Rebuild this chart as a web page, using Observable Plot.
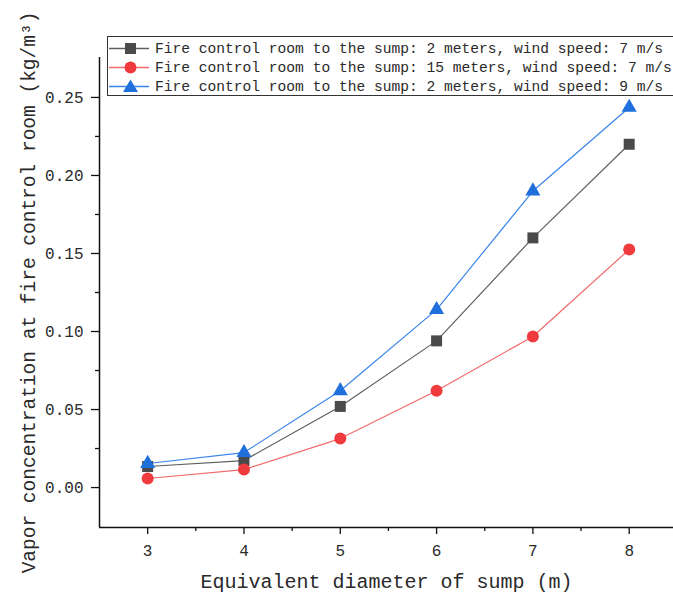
<!DOCTYPE html>
<html>
<head>
<meta charset="utf-8">
<script src="https://cdn.jsdelivr.net/npm/d3@7"></script>
<script src="https://cdn.jsdelivr.net/npm/@observablehq/plot@0.6"></script>
<style>
  html, body { margin: 0; padding: 0; background: #fff; overflow: hidden; }
  #wrap { position: relative; width: 673px; height: 597px; overflow: hidden; }
  #legend { position: absolute; left: 107px; top: 36px; width: 620px; height: 60px;
    border: 1px solid #333; background: #fff; font-family: "Liberation Mono", monospace;
    font-size: 14.6px; color: #2a2a2a; box-sizing: border-box; padding-top: 2px; }
  .row { display: flex; align-items: center; height: 19px; white-space: nowrap; }
  .row svg { flex: none; margin-right: 5px; }
</style>
</head>
<body>
<div id="wrap"><div id="chart"></div><div id="legend"></div></div>
<script>
const diameters = [3, 4, 5, 6, 7, 8];
const seriesNames = [
  "Fire control room to the sump: 2 meters, wind speed: 7 m/s",
  "Fire control room to the sump: 15 meters, wind speed: 7 m/s",
  "Fire control room to the sump: 2 meters, wind speed: 9 m/s"
];
const s2m7 = [0.0135, 0.0173, 0.052, 0.094, 0.160, 0.220];
const s15m7 = [0.0058, 0.0115, 0.0314, 0.062, 0.0968, 0.1526];
const s2m9 = [0.0154, 0.0224, 0.062, 0.114, 0.190, 0.2436];
const yTicks = [0, 0.05, 0.10, 0.15, 0.20, 0.25];
const yMinor = [0.025, 0.075, 0.125, 0.175, 0.225];
const xTicks = [3, 4, 5, 6, 7, 8];
const xMinor = [3.5, 4.5, 5.5, 6.5, 7.5];
const xTitle = "Equivalent diameter of sump (m)";
const yTitle = "Vapor concentration at fire control room (kg/m³)";

const styles = [
  {symbol: "square", fill: "#4a4a4a", line: "#5f5f5f", r: 6.2},
  {symbol: "circle", fill: "#ef3b3d", line: "#f26a6b", r: 6},
  {symbol: "triangle", fill: "#1f6fdc", line: "#3a85ea", r: 5.6}
];
const allSeries = [s2m7, s15m7, s2m9];
const data = allSeries.map((vals, i) => diameters.map((d, j) => ({x: d, y: vals[j], s: i})));

const xDom = [2.5, 8.46];
const yDom = [-0.0256, 0.2756];
const font = "Liberation Mono, monospace";

const marks = [
  Plot.ruleX([xDom[0]], {stroke: "#111", strokeWidth: 1.5}),
  Plot.ruleY([yDom[0]], {stroke: "#111", strokeWidth: 1.5}),
  Plot.axisY({ticks: yTicks, tickSize: 8, tickPadding: 8, tickFormat: d => d.toFixed(2), fontSize: 16, label: null, stroke: "#111", strokeWidth: 1.3, fill: "#2a2a2a"}),
  Plot.axisY({ticks: yMinor, tickSize: 4, tickFormat: () => "", label: null, stroke: "#111", strokeWidth: 1.3}),
  Plot.axisX({ticks: xTicks, tickSize: 7, tickPadding: 10, tickFormat: d => String(d), fontSize: 16, label: null, stroke: "#111", strokeWidth: 1.3, fill: "#2a2a2a"}),
  Plot.axisX({ticks: xMinor, tickSize: 4, tickFormat: () => "", label: null, stroke: "#111", strokeWidth: 1.3}),
  Plot.text([xTitle], {frameAnchor: "bottom", dy: 60, text: d => d, fontSize: 20, fill: "#2a2a2a", textAnchor: "middle"}),
  Plot.text([yTitle], {frameAnchor: "left", dx: -71, rotate: -90, text: d => d, fontSize: 19.5, fill: "#2a2a2a", textAnchor: "middle"})
];
data.forEach((d, i) => {
  marks.push(Plot.line(d, {x: "x", y: "y", stroke: styles[i].line, strokeWidth: 1.2}));
});
data.forEach((d, i) => {
  marks.push(Plot.dot(d, {x: "x", y: "y", symbol: () => styles[i].symbol, fill: styles[i].fill, r: styles[i].r, stroke: "none"}));
});

const chart = Plot.plot({
  width: 673, height: 597,
  marginLeft: 99, marginRight: 0, marginTop: 57, marginBottom: 70,
  x: {domain: xDom},
  y: {domain: yDom},
  symbol: {type: "identity"},
  style: {fontFamily: font, background: "#fff", overflow: "visible"},
  marks
});
document.getElementById("chart").appendChild(chart);

const legend = document.getElementById("legend");
seriesNames.forEach((name, i) => {
  const row = document.createElement("div");
  row.className = "row";
  const st = styles[i];
  let marker;
  if (st.symbol === "square") marker = `<rect x="17" y="4" width="11" height="11" fill="${st.fill}"/>`;
  else if (st.symbol === "circle") marker = `<circle cx="22.5" cy="9.5" r="6" fill="${st.fill}"/>`;
  else marker = `<path d="M22.5,2.5 L30,15 L15,15 Z" fill="${st.fill}"/>`;
  row.innerHTML = `<svg width="42" height="19"><line x1="1" x2="41" y1="9.5" y2="9.5" stroke="${st.line}" stroke-width="1.3"/>${marker}</svg><span>${name}</span>`;
  legend.appendChild(row);
});
</script>
</body>
</html>
